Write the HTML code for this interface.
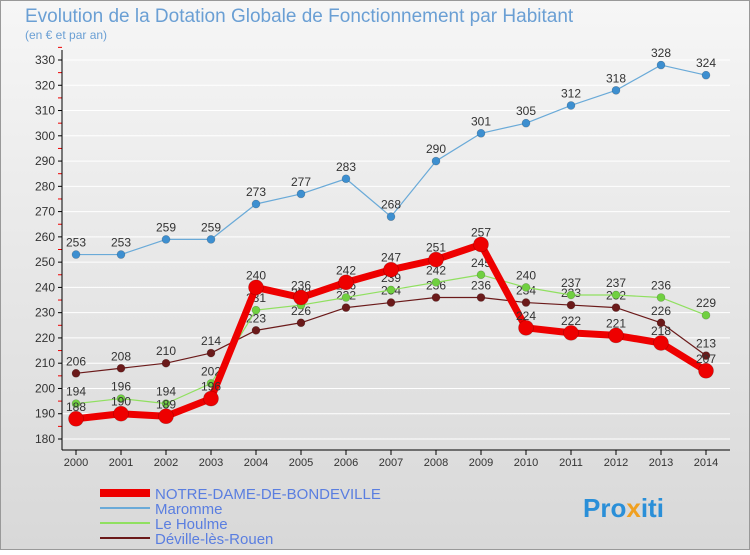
<!DOCTYPE html>
<html><head><meta charset="utf-8"><style>
body{margin:0;width:750px;height:550px;overflow:hidden;font-family:"Liberation Sans",sans-serif}
</style></head><body>
<svg width="750" height="550" xmlns="http://www.w3.org/2000/svg">
<defs><linearGradient id="bg" x1="0" y1="0" x2="0" y2="1"><stop offset="0" stop-color="#f6f6f6"/><stop offset="1" stop-color="#d8d8d8"/></linearGradient></defs>
<rect x="0.5" y="0.5" width="749" height="549" fill="url(#bg)" stroke="#999"/>
<text x="25" y="22" font-size="19" fill="#6a9fd4">Evolution de la Dotation Globale de Fonctionnement par Habitant</text>
<text x="25" y="39" font-size="12" fill="#6a9fd4">(en € et par an)</text>
<g id="axes"></g><g id="series"></g><g id="legend"></g>
<text x="583" y="517" font-size="26" font-weight="bold" fill="#2a8fd8">Pro<tspan fill="#f0a020">x</tspan>iti</text>
</svg>
<script>
const years=[2000,2001,2002,2003,2004,2005,2006,2007,2008,2009,2010,2011,2012,2013,2014];
const ndb=[188,190,189,196,240,236,242,247,251,257,224,222,221,218,207];
const maromme=[253,253,259,259,273,277,283,268,290,301,305,312,318,328,324];
const houlme=[194,196,194,202,231,233,236,239,242,245,240,237,237,236,229];
const deville=[206,208,210,214,223,226,232,234,236,236,234,233,232,226,213];
const yTicks=[180,190,200,210,220,230,240,250,260,270,280,290,300,310,320,330];
const NS="http://www.w3.org/2000/svg";
const x=i=>76+i*45, y=v=>439-(v-180)*379/150;
function mk(t,a,p){const e=document.createElementNS(NS,t);for(const k in a)e.setAttribute(k,a[k]);p.appendChild(e);return e;}
const ax=document.getElementById('axes');
for(const v of yTicks){
  const g=mk('line',{x1:62,x2:730,y1:y(v),y2:y(v),stroke:'#fff','stroke-width':1},ax);
  
  
  mk('line',{x1:58,x2:62,y1:y(v),y2:y(v),stroke:'#000'},ax);
  mk('line',{x1:58,x2:62,y1:y(v+5),y2:y(v+5),stroke:'#e00'},ax);
  const t=mk('text',{x:55,y:y(v)+4,'text-anchor':'end','font-size':12,fill:'#333'},ax);t.textContent=v;
  
  
}
mk('line',{x1:62,x2:62,y1:50,y2:450,stroke:'#000'},ax);
mk('line',{x1:62,x2:730,y1:450,y2:450,stroke:'#000'},ax);
years.forEach((yr,i)=>{
  mk('line',{x1:x(i),x2:x(i),y1:450,y2:455,stroke:'#000'},ax);
  const t=mk('text',{x:x(i),y:466,'text-anchor':'middle','font-size':11,fill:'#333'},ax);t.textContent=yr;
  
  
});
const se=document.getElementById('series');
function draw(d,col,w,r,name,mcol){
  const g=mk('g',{},se);
  
  
  mk('polyline',{points:d.map((v,i)=>x(i)+','+y(v)).join(' '),fill:'none',stroke:col,'stroke-width':w,'stroke-linejoin':'round'},g);
  d.forEach((v,i)=>{
    const c=mk('circle',{cx:x(i),cy:y(v),r:r,fill:mcol,stroke:'rgba(0,0,0,0.25)','stroke-width':0.6},g);
    
    
    const t=mk('text',{x:x(i),y:y(v)-8,'text-anchor':'middle','font-size':12,fill:'#333'},g);t.textContent=v;
  });
}
draw(deville,'#6b1a1a',1.2,4,'deville-series','#6b1a1a');
draw(houlme,'#90e060',1.2,4,'le-houlme-series','#70d040');
draw(maromme,'#6aaad8',1.2,4,'maromme-series','#3d8fd0');
draw(ndb,'#ee0000',7,7.5,'ndb-series','#ee0000');
const lg=document.getElementById('legend');
const items=[['NOTRE-DAME-DE-BONDEVILLE','#ee0000',8],['Maromme','#6aaad8',2],['Le Houlme','#90e060',2],['Déville-lès-Rouen','#6b1a1a',2]];
items.forEach((it,i)=>{
  const yy=493+i*15;
  const g=mk('g',{},lg);
  
  
  mk('line',{x1:100,x2:150,y1:yy,y2:yy,stroke:it[1],'stroke-width':it[2]},g);
  const t=mk('text',{x:155,y:yy+6,'font-size':15,fill:'#5a7ee0'},g);t.textContent=it[0];
});
</script>
</body></html>
